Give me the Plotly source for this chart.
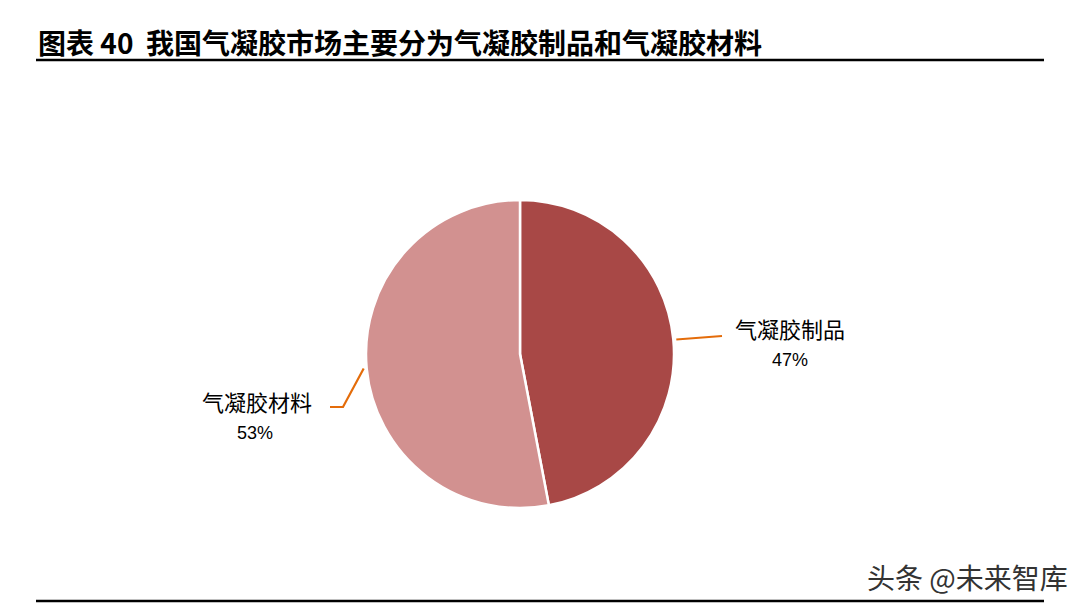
import math
import plotly.graph_objects as go

categories = ["气凝胶制品", "气凝胶材料"]
shares = [47, 53]
colors = ["#A84846", "#D29190"]

W, H = 1086, 609
CX, CY, R = 520, 354, 154


def px(x):
    return x / W


def py(y):
    return 1 - y / H


fig = go.Figure()
fig.add_trace(go.Pie(
    labels=categories,
    values=shares,
    sort=False,
    direction="clockwise",
    rotation=0,
    marker=dict(colors=colors, line=dict(color="white", width=2.5)),
    textinfo="none",
    hoverinfo="label+percent",
    showlegend=False,
    domain=dict(x=[px(CX - R), px(CX + R)], y=[py(CY + R), py(CY - R)]),
))

# edge points at the slice mid-angles, computed from the data
total = sum(shares)
cum = 0
mids = []
for v in shares:
    a = (cum + v / 2) / total * 2 * math.pi
    mids.append((CX + R * math.sin(a), CY - R * math.cos(a)))
    cum += v

orange = "#E46C0A"
shapes = []
(x1, y1), (x2, y2) = mids
shapes.append(dict(type="path", xref="paper", yref="paper",
                   path=f"M {px(x1+3)} {py(y1)} L {px(722)} {py(336)}",
                   line=dict(color=orange, width=2.2)))
shapes.append(dict(type="path", xref="paper", yref="paper",
                   path=f"M {px(x2-3)} {py(y2)} L {px(343)} {py(407)} L {px(330)} {py(407)}",
                   line=dict(color=orange, width=2.2)))
# title rule and bottom rule
shapes.append(dict(type="line", xref="paper", yref="paper",
                   x0=px(36), x1=px(1044), y0=py(60), y1=py(60),
                   line=dict(color="black", width=2.5)))
shapes.append(dict(type="line", xref="paper", yref="paper",
                   x0=px(36), x1=px(1044), y0=py(601), y1=py(601),
                   line=dict(color="black", width=2.5)))

cjk = "Noto Sans CJK SC"
lat = "Liberation Sans, Arial"
annotations = [
    dict(text="<b>图表 40  我国气凝胶市场主要分为气凝胶制品和气凝胶材料</b>",
         x=px(36), y=py(42), xanchor="left", yanchor="middle",
         font=dict(family=cjk, size=28, color="black")),
    dict(text=f"{categories[0]}", x=px(790), y=py(328), xanchor="center", yanchor="middle",
         font=dict(family=cjk, size=22, color="black")),
    dict(text=f"{shares[0]}%", x=px(790), y=py(360), xanchor="center", yanchor="middle",
         font=dict(family=lat, size=18, color="black")),
    dict(text=f"{categories[1]}", x=px(257), y=py(401), xanchor="center", yanchor="middle",
         font=dict(family=cjk, size=22, color="black")),
    dict(text=f"{shares[1]}%", x=px(255), y=py(433), xanchor="center", yanchor="middle",
         font=dict(family=lat, size=18, color="black")),
    dict(text="头条 @未来智库", x=px(1070), y=py(577), xanchor="right", yanchor="middle",
         font=dict(family=cjk, size=28, color="#333333")),
]
for a in annotations:
    a["showarrow"] = False
    a["xref"] = "paper"
    a["yref"] = "paper"

fig.update_layout(
    width=W, height=H,
    margin=dict(l=0, r=0, t=0, b=0),
    paper_bgcolor="white", plot_bgcolor="white",
    shapes=shapes, annotations=annotations,
)

fig.write_html("out.html", config={"displayModeBar": False},
               post_script="document.body.style.margin='0';document.body.style.overflow='hidden';")
